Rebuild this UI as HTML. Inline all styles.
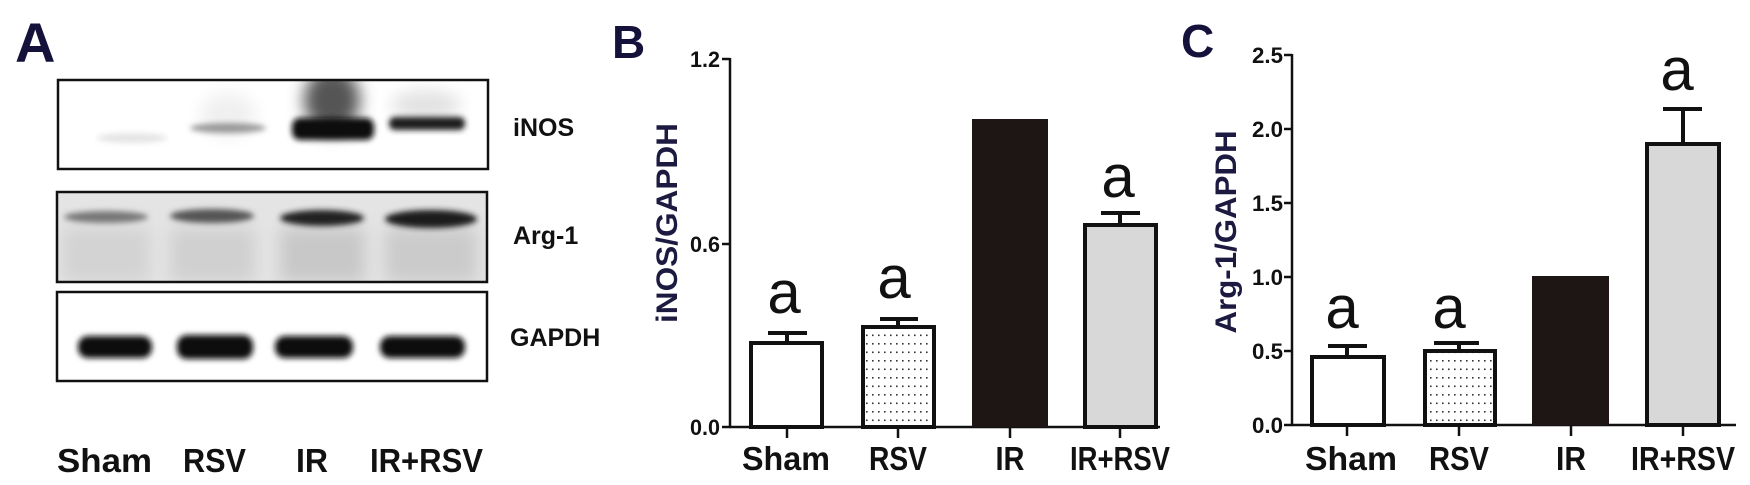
<!DOCTYPE html>
<html><head><meta charset="utf-8"><style>
html,body{margin:0;padding:0;background:#fff;}
svg{display:block;}
text{font-family:"Liberation Sans",Arial,sans-serif;}
</style></head><body>
<svg width="1750" height="485" viewBox="0 0 1750 485" xmlns="http://www.w3.org/2000/svg">
<defs>
<filter id="b3" x="-50%" y="-50%" width="200%" height="200%"><feGaussianBlur stdDeviation="3"/></filter>
<filter id="b5" x="-50%" y="-50%" width="200%" height="200%"><feGaussianBlur stdDeviation="5"/></filter>
<filter id="b8" x="-50%" y="-50%" width="200%" height="200%"><feGaussianBlur stdDeviation="8"/></filter>
<pattern id="dots" width="6" height="8.5" patternUnits="userSpaceOnUse">
<rect width="6" height="8.5" fill="#fff"/><rect x="2" y="3" width="1.6" height="1.6" fill="#333"/>
</pattern>
<clipPath id="c1"><rect x="58" y="80" width="430" height="89"/></clipPath>
<clipPath id="c2"><rect x="57" y="192" width="430" height="90"/></clipPath>
<clipPath id="c3"><rect x="57" y="292" width="430" height="89"/></clipPath>
</defs>
<rect width="1750" height="485" fill="#fff"/>

<!-- Panel A -->
<text x="15" y="62" font-size="56" font-weight="bold" fill="#14123a">A</text>
<g clip-path="url(#c1)">
<ellipse cx="132" cy="138" rx="35" ry="5" fill="#e4e4e4" filter="url(#b3)"/>
<ellipse cx="228" cy="115" rx="28" ry="22" fill="#f0f0f0" filter="url(#b8)"/>
<ellipse cx="228" cy="128" rx="38" ry="5" fill="#999" filter="url(#b3)"/>
<ellipse cx="332" cy="100" rx="28" ry="32" fill="#555" filter="url(#b8)"/>
<rect x="292" y="118" width="82" height="22" rx="8" fill="#111" filter="url(#b3)"/>
<ellipse cx="426" cy="105" rx="35" ry="15" fill="#e2e2e2" filter="url(#b8)"/>
<rect x="389" y="117" width="76" height="13" rx="6" fill="#1a1a1a" filter="url(#b3)"/>
</g>
<rect x="58" y="80" width="430" height="89" fill="none" stroke="#111" stroke-width="2.5"/>
<g clip-path="url(#c2)">
<rect x="57" y="192" width="430" height="90" fill="#e4e4e4"/>
<rect x="62" y="228" width="88" height="54" fill="#d3d3d3" filter="url(#b8)"/>
<rect x="170" y="228" width="85" height="54" fill="#d0d0d0" filter="url(#b8)"/>
<rect x="280" y="228" width="85" height="54" fill="#c8c8c8" filter="url(#b8)"/>
<rect x="385" y="228" width="92" height="54" fill="#cbcbcb" filter="url(#b8)"/>
<ellipse cx="106" cy="217" rx="42" ry="6" fill="#777" filter="url(#b3)"/>
<ellipse cx="212" cy="216" rx="42" ry="7" fill="#555" filter="url(#b3)"/>
<ellipse cx="322" cy="218" rx="42" ry="8" fill="#222" filter="url(#b3)"/>
<ellipse cx="431" cy="219" rx="46" ry="9" fill="#1a1a1a" filter="url(#b3)"/>
</g>
<rect x="57" y="192" width="430" height="90" fill="none" stroke="#111" stroke-width="2.5"/>
<g clip-path="url(#c3)">
<rect x="78" y="336" width="74" height="22" rx="10" fill="#111" filter="url(#b3)"/>
<rect x="177" y="335" width="76" height="24" rx="10" fill="#0d0d0d" filter="url(#b3)"/>
<rect x="275" y="336" width="78" height="22" rx="10" fill="#111" filter="url(#b3)"/>
<rect x="380" y="336" width="85" height="22" rx="10" fill="#111" filter="url(#b3)"/>
</g>
<rect x="57" y="292" width="430" height="89" fill="none" stroke="#111" stroke-width="2.5"/>
<g font-weight="bold" font-size="25" fill="#111">
<text x="513" y="136">iNOS</text>
<text x="513" y="244">Arg-1</text>
<text x="510" y="346">GAPDH</text>
</g>
<g font-weight="bold" font-size="33" fill="#111">
<text x="57" y="472" textLength="95" lengthAdjust="spacingAndGlyphs">Sham</text>
<text x="183" y="472" textLength="63" lengthAdjust="spacingAndGlyphs">RSV</text>
<text x="296" y="472" textLength="32" lengthAdjust="spacingAndGlyphs">IR</text>
<text x="370" y="472" textLength="113" lengthAdjust="spacingAndGlyphs">IR+RSV</text>
</g>

<!-- Panel B -->
<text x="612" y="58" font-size="46" font-weight="bold" fill="#14123a">B</text>
<text transform="translate(677,223) rotate(-90)" text-anchor="middle" font-size="30" font-weight="bold" fill="#1c1a40" textLength="200" lengthAdjust="spacingAndGlyphs">iNOS/GAPDH</text>
<g stroke="#111" stroke-width="2.5" fill="none">
<line x1="730" y1="58" x2="730" y2="428"/>
<line x1="729" y1="427" x2="1160" y2="427"/>
<line x1="722" y1="59" x2="730" y2="59"/>
<line x1="722" y1="244" x2="730" y2="244"/>
<line x1="722" y1="427" x2="730" y2="427"/>
<line x1="787" y1="427" x2="787" y2="438"/>
<line x1="898" y1="427" x2="898" y2="438"/>
<line x1="1010" y1="427" x2="1010" y2="438"/>
<line x1="1120" y1="427" x2="1120" y2="438"/>
</g>
<g font-size="22" font-weight="bold" fill="#111" text-anchor="end">
<text x="720" y="67" textLength="30" lengthAdjust="spacingAndGlyphs">1.2</text>
<text x="720" y="252" textLength="30" lengthAdjust="spacingAndGlyphs">0.6</text>
<text x="720" y="435" textLength="30" lengthAdjust="spacingAndGlyphs">0.0</text>
</g>
<g stroke="#111" stroke-width="4">
<line x1="787" y1="343" x2="787" y2="333"/><line x1="768" y1="333" x2="807" y2="333"/>
<line x1="898" y1="327" x2="898" y2="319"/><line x1="880" y1="319" x2="918" y2="319"/>
<line x1="1120" y1="225" x2="1120" y2="213"/><line x1="1101" y1="213" x2="1140" y2="213"/>
</g>
<rect x="751" y="343" width="71" height="84" fill="#fff" stroke="#111" stroke-width="4"/>
<rect x="863" y="327" width="71" height="100" fill="url(#dots)" stroke="#111" stroke-width="4"/>
<rect x="972" y="119" width="76" height="308" fill="#1e1614"/>
<rect x="1085" y="225" width="71" height="202" fill="#d8d8d8" stroke="#111" stroke-width="4"/>
<g font-size="60" fill="#111" text-anchor="middle">
<text x="784" y="313">a</text>
<text x="894" y="298">a</text>
<text x="1118" y="197">a</text>
</g>
<g font-weight="bold" font-size="33" fill="#111" text-anchor="middle">
<text x="786" y="470" textLength="88" lengthAdjust="spacingAndGlyphs">Sham</text>
<text x="898" y="470" textLength="58" lengthAdjust="spacingAndGlyphs">RSV</text>
<text x="1010" y="470" textLength="29" lengthAdjust="spacingAndGlyphs">IR</text>
<text x="1120" y="470" textLength="100" lengthAdjust="spacingAndGlyphs">IR+RSV</text>
</g>

<!-- Panel C -->
<text x="1181" y="57" font-size="46" font-weight="bold" fill="#14123a">C</text>
<text transform="translate(1236,232) rotate(-90)" text-anchor="middle" font-size="30" font-weight="bold" fill="#1c1a40" textLength="203" lengthAdjust="spacingAndGlyphs">Arg-1/GAPDH</text>
<g stroke="#111" stroke-width="2.5" fill="none">
<line x1="1292" y1="54" x2="1292" y2="426"/>
<line x1="1291" y1="425" x2="1736" y2="425"/>
<line x1="1284" y1="55" x2="1292" y2="55"/>
<line x1="1284" y1="129" x2="1292" y2="129"/>
<line x1="1284" y1="203" x2="1292" y2="203"/>
<line x1="1284" y1="277" x2="1292" y2="277"/>
<line x1="1284" y1="351" x2="1292" y2="351"/>
<line x1="1284" y1="425" x2="1292" y2="425"/>
<line x1="1347" y1="425" x2="1347" y2="436"/>
<line x1="1459" y1="425" x2="1459" y2="436"/>
<line x1="1571" y1="425" x2="1571" y2="436"/>
<line x1="1683" y1="425" x2="1683" y2="436"/>
</g>
<g font-size="22" font-weight="bold" fill="#111" text-anchor="end">
<text x="1283" y="63" textLength="31" lengthAdjust="spacingAndGlyphs">2.5</text>
<text x="1283" y="137" textLength="31" lengthAdjust="spacingAndGlyphs">2.0</text>
<text x="1283" y="211" textLength="31" lengthAdjust="spacingAndGlyphs">1.5</text>
<text x="1283" y="285" textLength="31" lengthAdjust="spacingAndGlyphs">1.0</text>
<text x="1283" y="359" textLength="31" lengthAdjust="spacingAndGlyphs">0.5</text>
<text x="1283" y="433" textLength="31" lengthAdjust="spacingAndGlyphs">0.0</text>
</g>
<g stroke="#111" stroke-width="4">
<line x1="1347" y1="357" x2="1347" y2="346"/><line x1="1328" y1="346" x2="1367" y2="346"/>
<line x1="1459" y1="351" x2="1459" y2="343"/><line x1="1434" y1="343" x2="1479" y2="343"/>
<line x1="1683" y1="144" x2="1683" y2="109"/><line x1="1663" y1="109" x2="1702" y2="109"/>
</g>
<rect x="1312" y="357" width="72" height="68" fill="#fff" stroke="#111" stroke-width="4"/>
<rect x="1425" y="351" width="70" height="74" fill="url(#dots)" stroke="#111" stroke-width="4"/>
<rect x="1532" y="276" width="77" height="149" fill="#1e1614"/>
<rect x="1647" y="144" width="72" height="281" fill="#d8d8d8" stroke="#111" stroke-width="4"/>
<g font-size="60" fill="#111" text-anchor="middle">
<text x="1342" y="328">a</text>
<text x="1449" y="328">a</text>
<text x="1677" y="90">a</text>
</g>
<g font-weight="bold" font-size="33" fill="#111" text-anchor="middle">
<text x="1351" y="470" textLength="92" lengthAdjust="spacingAndGlyphs">Sham</text>
<text x="1459" y="470" textLength="60" lengthAdjust="spacingAndGlyphs">RSV</text>
<text x="1571" y="470" textLength="30" lengthAdjust="spacingAndGlyphs">IR</text>
<text x="1683" y="470" textLength="104" lengthAdjust="spacingAndGlyphs">IR+RSV</text>
</g>
</svg>
</body></html>
